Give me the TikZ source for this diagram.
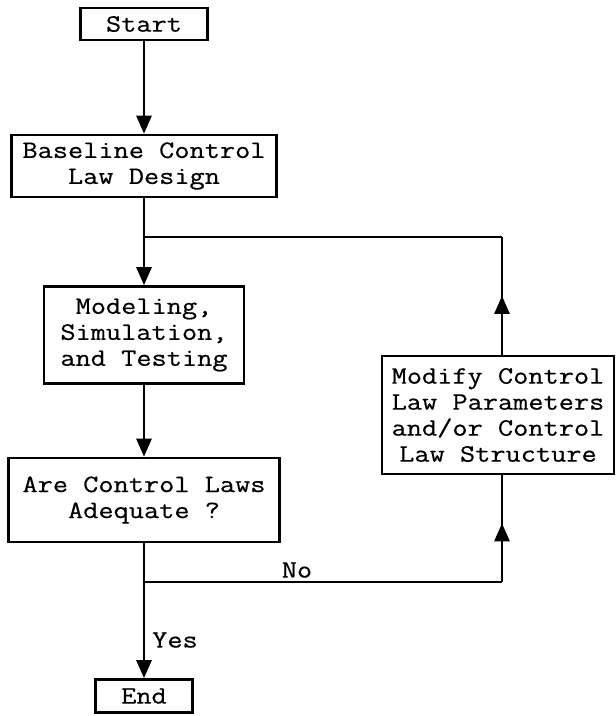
\documentclass[tikz,border=0pt]{standalone}
\usepackage{fontspec}
\setmonofont{Latin Modern Mono}[FakeStretch=1.18, FakeBold=0.5]
\usetikzlibrary{arrows.meta,decorations.markings}
\tikzset{
  fc/.style={x=1pt, y=-1pt, line width=2.7pt, >={Triangle[length=18pt,width=15pt]},
             every node/.style={font=\fontsize{25}{26}\selectfont\ttfamily, align=center}},
  blk/.style={draw, rectangle, inner sep=0pt, line width=2.6pt},
  lbl/.style={inner sep=0pt},
  midup/.style={postaction={decorate},
                decoration={markings, mark=at position #1 with {\arrow{Triangle[length=18pt,width=15pt]}}}}
}

\begin{document}
\begin{tikzpicture}[fc]
\useasboundingbox (0,0) rectangle (616,716);
\node[blk, minimum width=127pt, minimum height=32pt] (start) at (144,24) {Start};
\node[blk, minimum width=265pt, minimum height=62pt] (base) at (144,166) {Baseline Control\\Law Design};
\node[blk, minimum width=200pt, minimum height=97pt] (model) at (144,335) {Modeling,\\Simulation,\\and Testing};
\node[blk, minimum width=271pt, minimum height=84pt] (adeq) at (144,500) {Are Control Laws\\Adequate ?};
\node[blk, minimum width=232pt, minimum height=118pt] (modify) at (498,415) {Modify Control\\Law Parameters\\and/or Control\\Law Structure};
\node[blk, minimum width=97pt, minimum height=33pt] (end) at (144,696) {End};
\coordinate (jtop) at (144,237);
\coordinate (rtop) at (502,237);
\coordinate (jno) at (144,582);
\coordinate (rno) at (502,582);
\draw[->] (start) -- (base);
\draw[->] (base) -- (model);
\draw[->] (model) -- (adeq);
\draw[->] (adeq) -- (end);
\draw (jtop) -- (rtop);
\draw[midup=0.5] (modify.north -| rtop) -- (rtop);
\draw (jno) -- (rno);
\draw[midup=0.55] (rno) -- (modify.south -| rno);
\node[lbl] (no) at (297,570) {No};
\node[lbl] (yes) at (175,640) {Yes};
\end{tikzpicture}
\end{document}
